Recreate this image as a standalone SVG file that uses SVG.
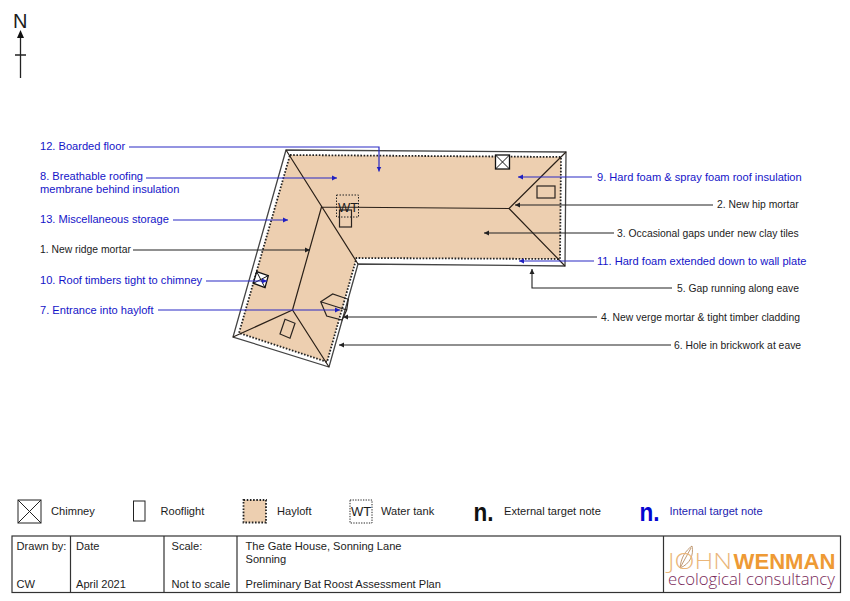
<svg xmlns="http://www.w3.org/2000/svg" width="850" height="601" viewBox="0 0 850 601">
<style>
text{font-family:"Liberation Sans",Arial,sans-serif;fill:#1c1c1c}
.b{font-size:11.100px;fill:#1414c8}
.k{font-size:10.350px}
.l{font-size:11.100px}
.t{font-size:11.100px}
.ln{fill:none;stroke:#222;stroke-width:1.3}
.rf{fill:none;stroke:#2a2420;stroke-width:1.2}
.dot{fill:none;stroke:#222;stroke-width:1.8;stroke-dasharray:1.6 1.6}
.ab{fill:none;stroke:#2a2ac4;stroke-width:1.2;marker-end:url(#mb)}
.ak{fill:none;stroke:#222;stroke-width:1.1;marker-end:url(#mk)}
</style>
<defs>
<marker id="mb" markerWidth="6" markerHeight="6" refX="5" refY="3" orient="auto" markerUnits="userSpaceOnUse"><path d="M0 .5L5 3L0 5.5z" fill="#2020c0"/></marker>
<marker id="mk" markerWidth="6" markerHeight="6" refX="5" refY="3" orient="auto" markerUnits="userSpaceOnUse"><path d="M0 .5L5 3L0 5.5z" fill="#222"/></marker>
</defs>
<rect width="850" height="601" fill="#fff"/>
<g id="north">
<text x="13" y="28" style="font-size:20px">N</text>
<path d="M20.500 78V36M15 55H26" class="ln"/>
<path d="M20.500 30L24 38H17z" fill="#111"/>
</g>
<g id="roof">
<path d="M286 150L566 152L565 266L358 264L329 367L233 337z" fill="#fff" stroke="#444" stroke-width="1.300"/>
<path d="M290 155L561 157L560 259L356.500 258L327 362L239 333z" fill="#edcfb0" stroke="none"/>
<path d="M290 155L561 157L560 259L356.500 258L327 362L239 333z" class="dot"/>
<path d="M286 150L358 264M321.500 207L509 208.500M566 152L509 208.500L565 266M321.500 207L292.500 310M233 337L292.500 310L329 367" fill="none" stroke="#2a2018" stroke-width="1.200"/>
</g>
<g id="chimney-north">
<rect x="495.500" y="155" width="14" height="14" fill="#fff" stroke="#111" stroke-width="1.300"/>
<path d="M495.500 155L509.500 169M509.500 155L495.500 169" stroke="#111" fill="none"/>
</g>
<g id="rooflight-east"><rect x="537" y="186" width="18" height="12" class="rf"/></g>
<g id="rooflight-centre"><rect x="339.500" y="210" width="12" height="17" class="rf"/></g>
<g id="water-tank">
<rect x="336.500" y="195" width="22" height="22" fill="none" stroke="#222" stroke-dasharray="1.500 1.500"/>
<text x="338" y="212" style="font-size:13px">WT</text>
</g>
<g id="chimney-west">
<path d="M256.700 271.700L268.300 275.700L265 287.700L253.300 283.300z" fill="#fff" stroke="#111" stroke-width="1.300"/>
<path d="M256.700 271.700L265 287.700M268.300 275.700L253.300 283.300" stroke="#111" fill="none"/>
</g>
<g id="rooflight-south"><path d="M285 319.300L295 323.300L290 338.300L280 334z" class="rf"/></g>
<g id="dormer"><path d="M320.700 301.700L332.700 294L348.300 299.300L346.700 310L342 320L326.700 316zM320.700 301.700L346.700 310" class="rf"/></g>
<g id="connectors">
<path d="M129 147H379V171.500" class="ab"/>
<path d="M146 178H337" class="ab"/>
<path d="M173 220H288" class="ab"/>
<path d="M133 250H310" class="ak"/>
<path d="M206 281H267" class="ab"/>
<path d="M158 310H340" class="ab"/>
<path d="M592 177H518" class="ab"/>
<path d="M713 205H515" class="ak"/>
<path d="M614 233H484" class="ak"/>
<path d="M594 261H519" class="ab"/>
<path d="M672 288H532V269" class="ak"/>
<path d="M597 317H343" class="ak"/>
<path d="M671 345H339" class="ak"/>
</g>
<g id="labels">
<text x="40" y="150" class="b">12. Boarded floor</text>
<text x="40" y="180" class="b">8. Breathable roofing</text>
<text x="40" y="193" class="b">membrane behind insulation</text>
<text x="40" y="223" class="b">13. Miscellaneous storage</text>
<text x="40" y="253" class="k">1. New ridge mortar</text>
<text x="40" y="284" class="b">10. Roof timbers tight to chimney</text>
<text x="40" y="314" class="b">7. Entrance into hayloft</text>
<text x="597" y="181" class="b">9. Hard foam &amp; spray foam roof insulation</text>
<text x="717" y="208" class="k">2. New hip mortar</text>
<text x="617" y="237" class="k">3. Occasional gaps under new clay tiles</text>
<text x="597" y="265" class="b">11. Hard foam extended down to wall plate</text>
<text x="677" y="292" class="k">5. Gap running along eave</text>
<text x="601" y="321" class="k">4. New verge mortar &amp; tight timber cladding</text>
<text x="674" y="349" class="k">6. Hole in brickwork at eave</text>
</g>
<g id="legend">
<rect x="18" y="500" width="23" height="23" fill="#fff" stroke="#222"/>
<path d="M18 500L41 523M41 500L18 523" stroke="#222"/>
<text x="51" y="515" class="l">Chimney</text>
<rect x="133.500" y="501" width="11.500" height="20" fill="#fff" stroke="#222"/>
<text x="160.500" y="515" class="l">Rooflight</text>
<rect x="243.500" y="500" width="22.500" height="22.500" class="dot" style="fill:#edcfb0"/>
<text x="277" y="515" class="l">Hayloft</text>
<rect x="350" y="500" width="22" height="23" fill="none" stroke="#222" stroke-dasharray="1.300 1.300"/>
<text x="351" y="516" style="font-size:13px">WT</text>
<text x="381" y="515" class="l">Water tank</text>
<text x="473.500" y="521" textLength="20" lengthAdjust="spacingAndGlyphs" style="font-size:25px;font-weight:bold;fill:#111">n.</text>
<text x="639.500" y="521" textLength="20" lengthAdjust="spacingAndGlyphs" style="font-size:25px;font-weight:bold;fill:#0505d0">n.</text>
<text x="504" y="515" class="l">External target note</text>
<text x="669.500" y="515" class="l" style="fill:#2222b0">Internal target note</text>
</g>
<g id="title-block">
<rect x="12" y="536" width="828.500" height="56.500" fill="#fff" stroke="#333" stroke-width="1.200"/>
<path d="M70.500 536V592.500M164 536V592.500M237 536V592.500M663.500 536V592.500" stroke="#333" stroke-width="1.200"/>
<text x="16.500" y="550" class="t">Drawn by:</text>
<text x="76" y="550" class="t">Date</text>
<text x="171.500" y="550" class="t">Scale:</text>
<text x="245.500" y="550" class="t">The Gate House, Sonning Lane</text>
<text x="245.500" y="563" class="t">Sonning</text>
<text x="16.500" y="588" class="t">CW</text>
<text x="76" y="588" class="t">April 2021</text>
<text x="171.500" y="588" class="t">Not to scale</text>
<text x="245.500" y="588" class="t">Preliminary Bat Roost Assessment Plan</text>
</g>
<g id="logo">
<path d="M680 568C681 558 685 551 692 546C694 555 690 564 680 568zM680 568L691 548" fill="#fff" stroke="#b08050" stroke-width=".8"/>
<text x="668" y="568.500" textLength="64" lengthAdjust="spacingAndGlyphs" style="font-size:22px;font-family:'Open Sans','Liberation Sans',sans-serif;font-weight:300;fill:#eab67a">JOHN</text>
<text x="733.500" y="568.500" textLength="102" lengthAdjust="spacingAndGlyphs" style="font-size:22px;font-weight:bold;fill:#ee9a35">WENMAN</text>
<text x="668" y="584.500" textLength="167" lengthAdjust="spacingAndGlyphs" style="font-size:17px;font-family:'Open Sans','Liberation Sans',sans-serif;font-weight:300;fill:#7a2a5a">ecological consultancy</text>
</g>
</svg>
